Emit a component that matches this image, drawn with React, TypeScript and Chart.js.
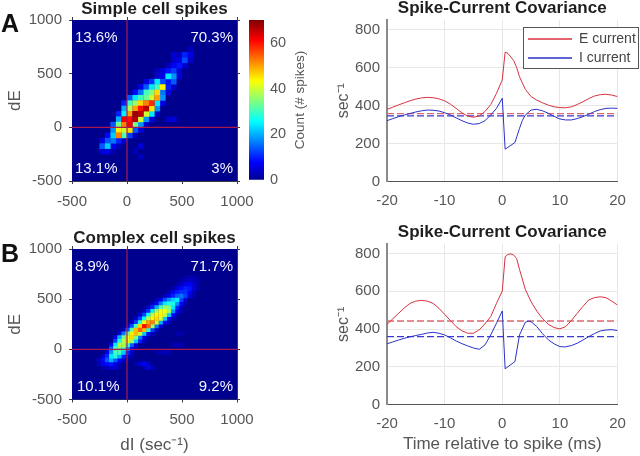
import React, { useEffect, useRef } from "react";
import { Chart, registerables } from "chart.js";

Chart.register(...registerables);

const FONT = "'Liberation Sans', sans-serif";
const TICK = "#565656";

/* ---------- heatmap data: [row, startColumn, ...counts] ---------- */
const simpleRows: number[][] = [
  [24, 21, 3],
  [23, 18, 5, 3, 10, 6],
  [22, 18, 4, 6, 13, 4],
  [21, 17, 3, 7, 9, 5],
  [20, 15, 3, 5, 9, 12, 5],
  [19, 15, 4, 6, 24, 18, 5],
  [18, 13, 5, 11, 24, 13, 9, 14],
  [17, 12, 6, 14, 24, 30, 44, 10, 4],
  [16, 11, 8, 16, 30, 35, 46, 16, 5],
  [15, 10, 14, 24, 30, 33, 40, 50, 18],
  [14, 9, 10, 30, 36, 46, 52, 58, 24, 6],
  [13, 9, 20, 38, 50, 60, 66, 45, 18],
  [12, 8, 10, 25, 50, 68, 66, 40, 24, 4],
  [11, 8, 20, 62, 60, 66, 40, 18, 5],
  [10, 7, 14, 34, 52, 62, 34, 18, 4],
  [9, 7, 18, 44, 40, 46, 14, 5],
  [8, 6, 8, 22, 52, 30, 12, 3],
  [7, 5, 6, 14, 16, 10, 4],
  [6, 5, 14, 22, 6, 3],
  [5, 5, 5, 6, 2, 0, 0, 0, 3],
  [11, 17, 4, 5],
  [6, 12, 5],
  [4, 12, 3],
];
const complexRows: number[][] = [
  [32, 27, 1, 2, 2, 1],
  [31, 26, 2, 3, 4, 3, 2],
  [30, 25, 2, 4, 6, 7, 5, 2],
  [29, 24, 2, 5, 8, 10, 9, 5, 2],
  [28, 23, 3, 6, 9, 11, 11, 7, 3],
  [27, 22, 3, 6, 10, 14, 16, 12, 5, 2],
  [26, 20, 3, 7, 13, 18, 22, 24, 12, 4],
  [25, 19, 3, 8, 16, 24, 28, 27, 18, 7, 2],
  [24, 18, 4, 10, 20, 30, 36, 34, 24, 10, 3],
  [23, 17, 4, 11, 24, 36, 42, 42, 36, 18, 6, 2],
  [22, 16, 4, 12, 26, 38, 44, 44, 38, 22, 8, 2],
  [21, 15, 4, 12, 26, 38, 44, 46, 40, 22, 8, 2],
  [20, 14, 4, 12, 28, 42, 50, 52, 40, 20, 7, 2],
  [19, 13, 4, 13, 30, 46, 60, 54, 36, 16, 5],
  [18, 12, 4, 14, 32, 48, 54, 48, 28, 12, 4],
  [17, 11, 5, 16, 34, 44, 48, 40, 22, 8, 3],
  [16, 10, 6, 20, 34, 42, 46, 34, 16, 6, 2],
  [15, 10, 12, 28, 38, 42, 36, 22, 9, 3],
  [14, 9, 8, 24, 38, 38, 30, 14, 5],
  [13, 9, 14, 32, 34, 30, 18, 7, 3],
  [12, 8, 6, 18, 30, 30, 22, 10, 4],
  [11, 7, 4, 10, 24, 28, 20, 10, 5, 2],
  [10, 6, 3, 8, 14, 20, 14, 8, 4],
  [9, 6, 3, 6, 8, 9, 6, 3, 0, 0, 0, 2, 4, 7, 4],
  [8, 7, 2, 3, 5, 4, 2, 0, 0, 0, 0, 0, 2, 6, 3],
  [14, 24, 2, 3, 2],
  [17, 25, 2, 2],
  [12, 20, 2, 2, 3, 2],
];
const simpleBins = 30;
const complexBins = 40;

const simpleQuadrants = ["13.6%", "70.3%", "13.1%", "3%"];
const complexQuadrants = ["8.9%", "71.7%", "10.1%", "9.2%"];

/* ---------- covariance curves ---------- */
const timeEA = [-20, -19, -18, -17, -16, -15, -14, -13, -12, -11, -10, -9, -8, -7, -6, -5, -4, -3, -2, -1, 0, 0.5, 1, 2, 2.5, 3, 4, 5, 6, 7, 8, 9, 10, 11, 12, 13, 14, 15, 16, 17, 18, 19, 20];
const valueEA = [380, 391, 403, 414, 425, 434, 440, 443, 441, 435, 425, 407, 385, 362, 344, 338, 345, 368, 405, 464, 534, 681, 674, 636, 600, 551, 485, 447, 428, 414, 402, 393, 389, 388, 393, 405, 420, 436, 450, 457, 459, 455, 447];
const timeIA = [-20, -19, -18, -17, -16, -15, -14, -13, -12, -11, -10, -9, -8, -7, -6, -5, -4, -3, -2, -1, 0, 0.5, 2.2, 3, 3.5, 4, 5, 6, 7, 8, 9, 10, 11, 12, 13, 14, 15, 16, 17, 18, 19, 20];
const valueIA = [320, 331, 341, 350, 358, 366, 372, 376, 375, 371, 362, 350, 335, 320, 308, 301, 305, 320, 350, 385, 438, 170, 205, 280, 322, 350, 376, 380, 372, 359, 343, 329, 324, 324, 331, 341, 354, 368, 378, 385, 386, 385];
const timeEB = [-20, -19, -18, -17, -16, -15, -14, -13, -12, -11, -10, -9, -8, -7, -6, -5, -4, -3, -2, -1, 0, 0.5, 1, 1.5, 2, 2.5, 3, 4, 5, 6, 7, 8, 9, 10, 11, 12, 13, 14, 15, 16, 17, 18, 19, 20];
const valueEB = [425, 454, 483, 512, 536, 548, 552, 548, 536, 510, 478, 445, 413, 391, 378, 378, 396, 428, 466, 536, 601, 782, 795, 798, 791, 773, 715, 610, 545, 495, 455, 425, 408, 401, 413, 445, 483, 520, 554, 566, 571, 566, 548, 527];
const timeIB = [-20, -19, -18, -17, -16, -15, -14, -13, -12, -11, -10, -9, -8, -7, -6, -5, -4, -3, -2, -1, 0, 0.5, 2.2, 3, 4, 4.5, 5, 6, 7, 8, 9, 10, 11, 12, 13, 14, 15, 16, 17, 18, 19, 20];
const valueIB = [322, 332, 342, 351, 359, 366, 372, 379, 383, 378, 369, 354, 337, 323, 311, 300, 293, 316, 369, 431, 496, 190, 228, 369, 436, 442, 439, 413, 375, 343, 322, 307, 306, 313, 325, 342, 360, 376, 390, 395, 397, 392];
const meanEA = 357;
const meanIA = 345;
const meanEB = 443;
const meanIB = 360;

/* ---------- colormap ---------- */
const clamp01 = (v: number) => Math.max(0, Math.min(1, v));
function jet(v: number): string {
  const t = clamp01(v) * (63 / 64) + 1 / 64;
  const r = clamp01(1.5 - Math.abs(4 * t - 3));
  const g = clamp01(1.5 - Math.abs(4 * t - 2));
  const b = clamp01(1.5 - Math.abs(4 * t - 1));
  return `rgb(${Math.round(r * 255)},${Math.round(g * 255)},${Math.round(b * 255)})`;
}
const COUNT_MAX = 70;
const plainTick = (v: any) => String(v);

function toCells(rows: number[][], bins: number) {
  const step = 1500 / bins;
  const out: { x: number; y: number; v: number }[] = [];
  rows.forEach(([row, start, ...vals]) => {
    vals.forEach((v, i) => {
      if (v > 0) out.push({ x: -500 + step * (start + i + 0.5), y: -500 + step * (row + 0.5), v });
    });
  });
  return out.sort((a, b) => a.v - b.v);
}

const TITLE_SIZE = 17;
const stdTitle = (text: string, offsetBottom: number) => ({
  display: true,
  text,
  color: "#1e1e1e",
  fullSize: false,
  font: { family: FONT, size: TITLE_SIZE, weight: "bold" as const, lineHeight: 1.2 },
  padding: { top: 0, bottom: offsetBottom },
});
const titleHeight = (offsetBottom: number) => TITLE_SIZE * 1.2 + offsetBottom;

function heatConfig(opts: any) {
  const { rows, bins, quadrants, box, title, quadTop, quadBottom, quadLeftB, xTitle, titlePad } = opts;
  const cells = toCells(rows, bins);
  const side = Math.max((box.r - box.l) / bins, (box.b - box.t) / bins) + 0.2;
  const quadPlugin = {
    id: "heatDecor",
    beforeDatasetsDraw(c: any) {
      const a = c.chartArea;
      c.ctx.save();
      c.ctx.fillStyle = jet(0);
      c.ctx.fillRect(a.left, a.top, a.right - a.left, a.bottom - a.top);
      c.ctx.restore();
    },
    afterDatasetsDraw(c: any) {
      const a = c.chartArea;
      const ctx = c.ctx;
      ctx.save();
      ctx.fillStyle = "#f4f4ff";
      ctx.font = `15px ${FONT}`;
      ctx.textBaseline = "middle";
      ctx.textAlign = "left";
      ctx.fillText(quadrants[0], a.left + 3, a.top + quadTop);
      ctx.fillText(quadrants[2], a.left + quadLeftB, a.bottom - quadBottom);
      ctx.textAlign = "right";
      ctx.fillText(quadrants[1], a.right - 4, a.top + quadTop);
      ctx.fillText(quadrants[3], a.right - 4, a.bottom - quadBottom);
      ctx.restore();
    },
  };
  const tickCol = "#3a3a4a";
  const bottomH = box.bottomH;
  return {
    type: "scatter",
    plugins: [quadPlugin],
    data: {
      datasets: [
        { type: "line", data: [{ x: -500, y: 0 }, { x: 1000, y: 0 }], borderColor: "#a81a4e", borderWidth: 1.2, pointRadius: 0, clip: false },
        { type: "line", data: [{ x: 0, y: -500 }, { x: 0, y: 1000 }], borderColor: "#a81a4e", borderWidth: 1.2, pointRadius: 0, clip: false },
        {
          data: cells,
          pointStyle: "rect",
          pointRadius: side * Math.SQRT1_2,
          pointBorderWidth: 0,
          pointBackgroundColor: cells.map((c) => jet(c.v / COUNT_MAX)),
        },
      ],
    },
    options: {
      animation: false,
      responsive: false,
      layout: {
        padding: {
          left: 5,
          right: 640 - box.r - 3,
          top: box.t - titleHeight(titlePad),
          bottom: 456 - box.b - bottomH,
        },
      },
      plugins: { legend: { display: false }, tooltip: { enabled: false }, title: stdTitle(title, titlePad) },
      scales: {
        x: {
          type: "linear", min: -500, max: 1000, position: "bottom",
          afterFit: (s: any) => { s.height = bottomH; },
          ticks: { stepSize: 500, color: TICK, padding: 8.5, maxRotation: 0, callback: plainTick, font: { family: FONT, size: 15 } },
          grid: { drawOnChartArea: false, tickLength: 3, color: tickCol },
          border: { color: tickCol },
          title: xTitle ? { display: true, text: xTitle, color: TICK, padding: 0, font: { family: FONT, size: 17, lineHeight: 1.2 } } : { display: false },
        },
        y: {
          type: "linear", min: -500, max: 1000, position: "left",
          afterFit: (s: any) => { s.width = box.l - 5; },
          ticks: { stepSize: 500, color: TICK, padding: 7, callback: plainTick, font: { family: FONT, size: 15 } },
          grid: { drawOnChartArea: false, tickLength: 3, color: tickCol },
          border: { color: tickCol },
          title: { display: true, text: "dE", color: TICK, padding: 0, font: { family: FONT, size: 17, lineHeight: 1.2 } },
        },
        x2: {
          type: "linear", min: -500, max: 1000, position: "top",
          afterFit: (s: any) => { s.height = 0; },
          ticks: { stepSize: 500, display: false },
          grid: { drawOnChartArea: false, tickLength: 3, color: tickCol },
          border: { color: tickCol },
        },
        y2: {
          type: "linear", min: -500, max: 1000, position: "right",
          afterFit: (s: any) => { s.width = 3; },
          ticks: { stepSize: 500, display: false },
          grid: { drawOnChartArea: false, tickLength: 3, color: tickCol },
          border: { color: tickCol },
        },
      },
    },
  };
}

function colorbarConfig() {
  const box = { l: 249, r: 264, t: 20, b: 180 };
  const labelPlugin = {
    id: "barLabel",
    afterDraw(c: any) {
      const ctx = c.ctx;
      ctx.save();
      ctx.translate(300, 100);
      ctx.rotate(-Math.PI / 2);
      ctx.fillStyle = TICK;
      ctx.font = `13.5px ${FONT}`;
      ctx.textAlign = "center";
      ctx.textBaseline = "middle";
      ctx.fillText("Count (# spikes)", 0, 0);
      ctx.restore();
    },
  };
  return {
    type: "bar",
    plugins: [labelPlugin],
    data: {
      labels: [""],
      datasets: [
        {
          data: [[0, COUNT_MAX]],
          barPercentage: 1,
          categoryPercentage: 1,
          borderWidth: 0,
          backgroundColor: (ctx: any) => {
            const a = ctx.chart.chartArea;
            if (!a) return jet(0);
            const g = ctx.chart.ctx.createLinearGradient(0, a.bottom, 0, a.top);
            for (let i = 0; i <= 64; i++) g.addColorStop(i / 64, jet(i / 64));
            return g;
          },
        },
      ],
    },
    options: {
      animation: false,
      responsive: false,
      layout: { padding: { left: box.l, right: 640 - box.r - 30, top: box.t, bottom: 456 - box.b } },
      plugins: { legend: { display: false }, tooltip: { enabled: false } },
      scales: {
        x: { display: false },
        y: {
          type: "linear", min: 0, max: COUNT_MAX, position: "right",
          afterFit: (s: any) => { s.width = 30; },
          ticks: { stepSize: 20, includeBounds: false, color: TICK, padding: 6, font: { family: FONT, size: 14.5 } },
          grid: { drawOnChartArea: false, drawTicks: false },
          border: { display: false },
        },
      },
    },
  };
}

function lineConfig(opts: any) {
  const { te, ve, ti, vi, meanE, meanI, box, xTitle, withLegend, titlePad } = opts;
  const RED = "#d8323f";
  const BLUE = "#2a32c8";
  const pts = (t: number[], v: number[]) => t.map((x, i) => ({ x, y: v[i] }));
  const legendPlugin = {
    id: "legendFrame",
    afterLayout(c: any) {
      if (!withLegend) return;
      const l = c.legend;
      l.left = 523; l.right = 639; l.top = 27; l.bottom = 80;
      l.width = 116; l.height = 53;
    },
    afterDatasetsDraw(c: any) {
      if (!withLegend) return;
      const ctx = c.ctx;
      ctx.save();
      ctx.fillStyle = "#ffffff";
      ctx.strokeStyle = "#555555";
      ctx.lineWidth = 1;
      ctx.fillRect(523.5, 27.5, 115, 41);
      ctx.strokeRect(523.5, 27.5, 115, 41);
      ctx.restore();
      c.legend.draw();
    },
  };
  const bottomH = box.bottomH;
  return {
    type: "line",
    plugins: [legendPlugin],
    data: {
      datasets: [
        { label: "E current", data: pts(te, ve), borderColor: RED, backgroundColor: RED, borderWidth: 1, pointRadius: 0 },
        { label: "I current", data: pts(ti, vi), borderColor: BLUE, backgroundColor: BLUE, borderWidth: 1, pointRadius: 0 },
        { label: "E mean", data: [{ x: -20, y: meanE }, { x: 20, y: meanE }], borderColor: "#e0686e", borderWidth: 1.4, borderDash: [7, 3], pointRadius: 0 },
        { label: "I mean", data: [{ x: -20, y: meanI }, { x: 20, y: meanI }], borderColor: "#3a3ad0", borderWidth: 1.2, borderDash: [7, 3], pointRadius: 0 },
      ],
    },
    options: {
      animation: false,
      responsive: false,
      layout: {
        padding: {
          left: 334,
          right: 640 - box.r,
          top: box.t - titleHeight(titlePad),
          bottom: 456 - box.b - bottomH,
        },
      },
      plugins: {
        tooltip: { enabled: false },
        title: stdTitle("Spike-Current Covariance", titlePad),
        legend: withLegend
          ? {
              display: true,
              position: "chartArea",
              align: "start",
              labels: {
                boxWidth: 44,
                boxHeight: 0,
                padding: 5,
                color: "#444444",
                font: { family: FONT, size: 14 },
                filter: (it: any) => it.datasetIndex < 2,
              },
            }
          : { display: false },
      },
      scales: {
        x: {
          type: "linear", min: -20, max: 20, position: "bottom",
          afterFit: (s: any) => { s.height = bottomH; },
          ticks: { stepSize: 10, color: TICK, padding: 10, maxRotation: 0, font: { family: FONT, size: 15 } },
          grid: { color: "#e7e7e7", drawTicks: false },
          border: { color: "#555555", width: 1 },
          title: xTitle ? { display: true, text: xTitle, color: TICK, padding: 0, font: { family: FONT, size: 17, lineHeight: 1.2 } } : { display: false },
        },
        y: {
          type: "linear", min: 0, max: 850, position: "left",
          afterFit: (s: any) => { s.width = box.l - 334; },
          ticks: { stepSize: 200, includeBounds: false, color: TICK, padding: 7, font: { family: FONT, size: 15 } },
          grid: { color: "#e7e7e7", drawTicks: false },
          border: { color: "#8a8a8a", width: 2 },
          title: { display: true, text: "sec⁻¹", color: TICK, padding: 0, font: { family: FONT, size: 16, lineHeight: 1.2 } },
        },
      },
    },
  };
}

const panelLetter = (top: number): React.CSSProperties => ({
  position: "absolute",
  left: 1,
  top,
  font: `bold 25px ${FONT}`,
  lineHeight: "28px",
  color: "#111",
});

export default function App() {
  const refs = [useRef<HTMLCanvasElement>(null), useRef<HTMLCanvasElement>(null), useRef<HTMLCanvasElement>(null), useRef<HTMLCanvasElement>(null), useRef<HTMLCanvasElement>(null)];
  useEffect(() => {
    const configs: any[] = [
      heatConfig({
        rows: simpleRows, bins: simpleBins, quadrants: simpleQuadrants, title: "Simple cell spikes", quadTop: 18, quadBottom: 12, quadLeftB: 3, titlePad: 0.5,
        box: { l: 72, r: 237, t: 20, b: 181, bottomH: 40 },
      }),
      colorbarConfig(),
      lineConfig({
        te: timeEA, ve: valueEA, ti: timeIA, vi: valueIA, meanE: meanEA, meanI: meanIA, withLegend: true, titlePad: 1,
        box: { l: 387, r: 617.5, t: 20, b: 181.5, bottomH: 40 },
      }),
      heatConfig({
        rows: complexRows, bins: complexBins, quadrants: complexQuadrants, title: "Complex cell spikes", quadTop: 18, quadBottom: 13, quadLeftB: 5, xTitle: "dI (sec⁻¹)", titlePad: 0,
        box: { l: 72, r: 237, t: 249, b: 399.5, bottomH: 56.5 },
      }),
      lineConfig({
        te: timeEB, ve: valueEB, ti: timeIB, vi: valueIB, meanE: meanEB, meanI: meanIB, withLegend: false, xTitle: "Time relative to spike (ms)", titlePad: 1,
        box: { l: 387, r: 617.5, t: 244, b: 404.7, bottomH: 49.5 },
      }),
    ];
    const charts = configs.map((cfg, i) => new Chart(refs[i].current as HTMLCanvasElement, cfg));
    return () => charts.forEach((c) => c.destroy());
  }, []);
  return (
    <div style={{ position: "fixed", left: 0, top: 0, width: 640, height: 456, background: "#fff", overflow: "hidden" }}>
      {refs.map((r, i) => (
        <canvas key={i} ref={r} width={640} height={456} style={{ position: "absolute", left: 0, top: 0, width: 640, height: 456 }} />
      ))}
      <div style={panelLetter(9)}>A</div>
      <div style={panelLetter(239)}>B</div>
    </div>
  );
}
